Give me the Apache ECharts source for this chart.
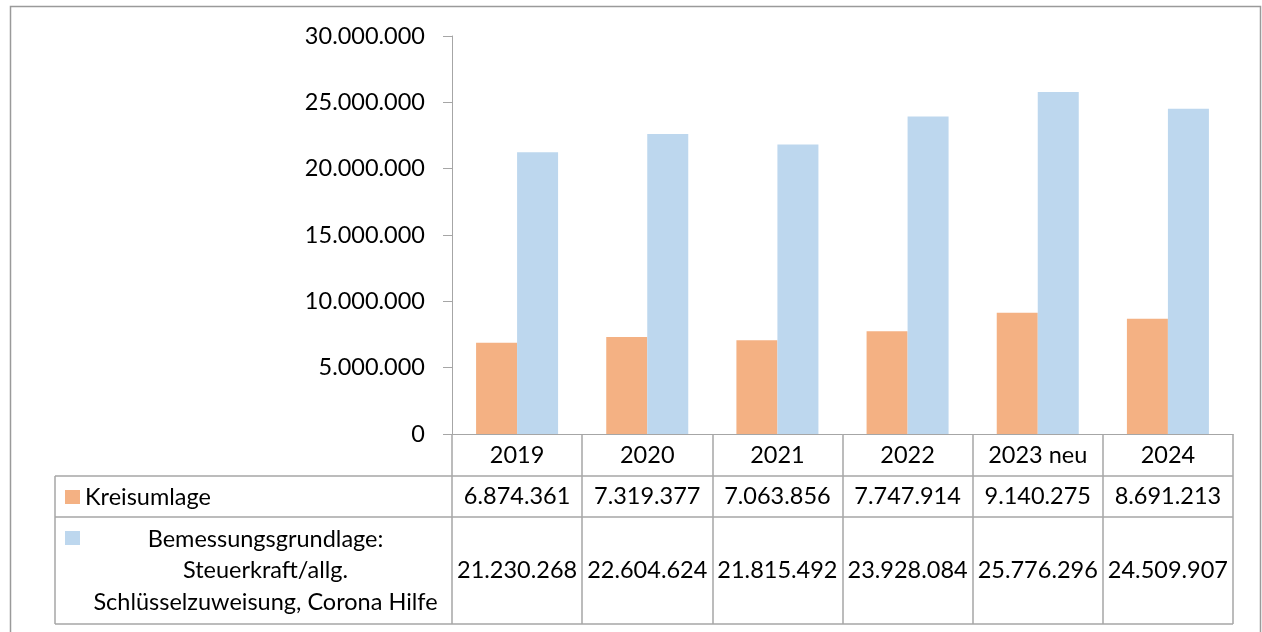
<!DOCTYPE html>
<html><head><meta charset="utf-8">
<script src="https://cdn.jsdelivr.net/npm/echarts@6/dist/echarts.min.js"></script>
<style>html,body{margin:0;padding:0;background:#fff}#c{width:1262px;height:632px}</style>
</head><body><div id="c"></div>
<script>
const categories = ['2019', '2020', '2021', '2022', '2023 neu', '2024'];
const kreisumlage = [6874361, 7319377, 7063856, 7747914, 9140275, 8691213];
const bemessung = [21230268, 22604624, 21815492, 23928084, 25776296, 24509907];
const seriesNames = ['Kreisumlage', 'Bemessungsgrundlage: Steuerkraft/allg. Schlüsselzuweisung, Corona Hilfe'];
const bemessungLabelLines = ['Bemessungsgrundlage:', 'Steuerkraft/allg.', 'Schlüsselzuweisung, Corona Hilfe'];
const yTicks = { min: 0, max: 30000000, interval: 5000000 };

const FONT = 'Lato';
const FS = 23.5;
const colors = ['#F4B183', '#BDD7EE'];
const lineCol = '#a6a6a6';

function de(n) { return String(n).replace(/\B(?=(\d{3})+(?!\d))/g, '.'); }

// layout
const G = { left: 452, right: 29, top: 36, bottom: 198 };
const W = 1262, H = 632;
const axisY = H - G.bottom;           // 434
const rowH = [42, 41, 107];
const r1 = axisY + rowH[0], r2 = r1 + rowH[1], r3 = r2 + rowH[2];
const tableLeft = 55, tableRight = W - G.right;

const chart = echarts.init(document.getElementById('c'), null, { renderer: 'canvas' });
chart.setOption({
  animation: false,
  textStyle: { fontFamily: FONT },
  grid: G,
  legend: {
    orient: 'vertical', left: 65, top: r1 + 7, itemWidth: 15, itemHeight: 14, itemGap: 20,
    selectedMode: false, icon: 'rect', padding: 0,
    formatter: n => n === seriesNames[0] ? n : '',
    textStyle: { fontFamily: FONT, fontSize: FS, lineHeight: 28, color: '#000' }
  },
  xAxis: {
    type: 'category', data: categories,
    axisLine: { show: true, lineStyle: { color: lineCol, width: 1 } },
    axisTick: { show: true, length: rowH[0] + rowH[1] + rowH[2], lineStyle: { color: lineCol, width: 1.5 }, interval: 0 },
    axisLabel: {
      interval: 0, margin: 0, color: '#000',
      formatter: (v, i) => `{a|${v}}\n{b|${de(kreisumlage[i])}}\n{c|${de(bemessung[i])}}`,
      rich: {
        a: { fontFamily: FONT, fontSize: FS, lineHeight: rowH[0], color: '#000' },
        b: { fontFamily: FONT, fontSize: FS, lineHeight: rowH[1], color: '#000' },
        c: { fontFamily: FONT, fontSize: FS, lineHeight: rowH[2], color: '#000' }
      }
    }
  },
  yAxis: {
    type: 'value', min: yTicks.min, max: yTicks.max, interval: yTicks.interval,
    axisLine: { show: true, lineStyle: { color: lineCol, width: 1 } },
    axisTick: { show: true, length: 9, lineStyle: { color: lineCol } },
    splitLine: { show: false },
    axisLabel: { margin: 27, color: '#000', fontFamily: FONT, fontSize: FS, formatter: v => de(v) }
  },
  series: [
    { name: seriesNames[0], type: 'bar', data: kreisumlage, itemStyle: { color: colors[0] }, barGap: '0%', barCategoryGap: '37%' },
    { name: seriesNames[1], type: 'bar', data: bemessung, itemStyle: { color: colors[1] }, barGap: '0%', barCategoryGap: '37%' }
  ],
  graphic: [
    { type: 'rect', shape: { x: 10.5, y: 6.5, width: 1250, height: 700 }, style: { fill: 'none', stroke: '#9a9a9a', lineWidth: 1.5 }, silent: true },
    { type: 'line', shape: { x1: tableLeft, y1: r1, x2: tableRight, y2: r1 }, style: { stroke: lineCol, lineWidth: 1.5 } },
    { type: 'line', shape: { x1: tableLeft, y1: r2, x2: tableRight, y2: r2 }, style: { stroke: lineCol, lineWidth: 1.5 } },
    { type: 'line', shape: { x1: tableLeft, y1: r3, x2: tableRight, y2: r3 }, style: { stroke: lineCol, lineWidth: 1.5 } },
    { type: 'line', shape: { x1: tableLeft, y1: r1, x2: tableLeft, y2: r3 }, style: { stroke: lineCol, lineWidth: 1.5 } },
    { type: 'text', x: (tableLeft + G.left) / 2 + 12, y: (r2 + r3) / 2,
      style: { text: bemessungLabelLines.join('\n'), fontFamily: FONT, fontSize: FS, lineHeight: 31.5,
               align: 'center', verticalAlign: 'middle', fill: '#000' } }
  ]
});
</script></body></html>
